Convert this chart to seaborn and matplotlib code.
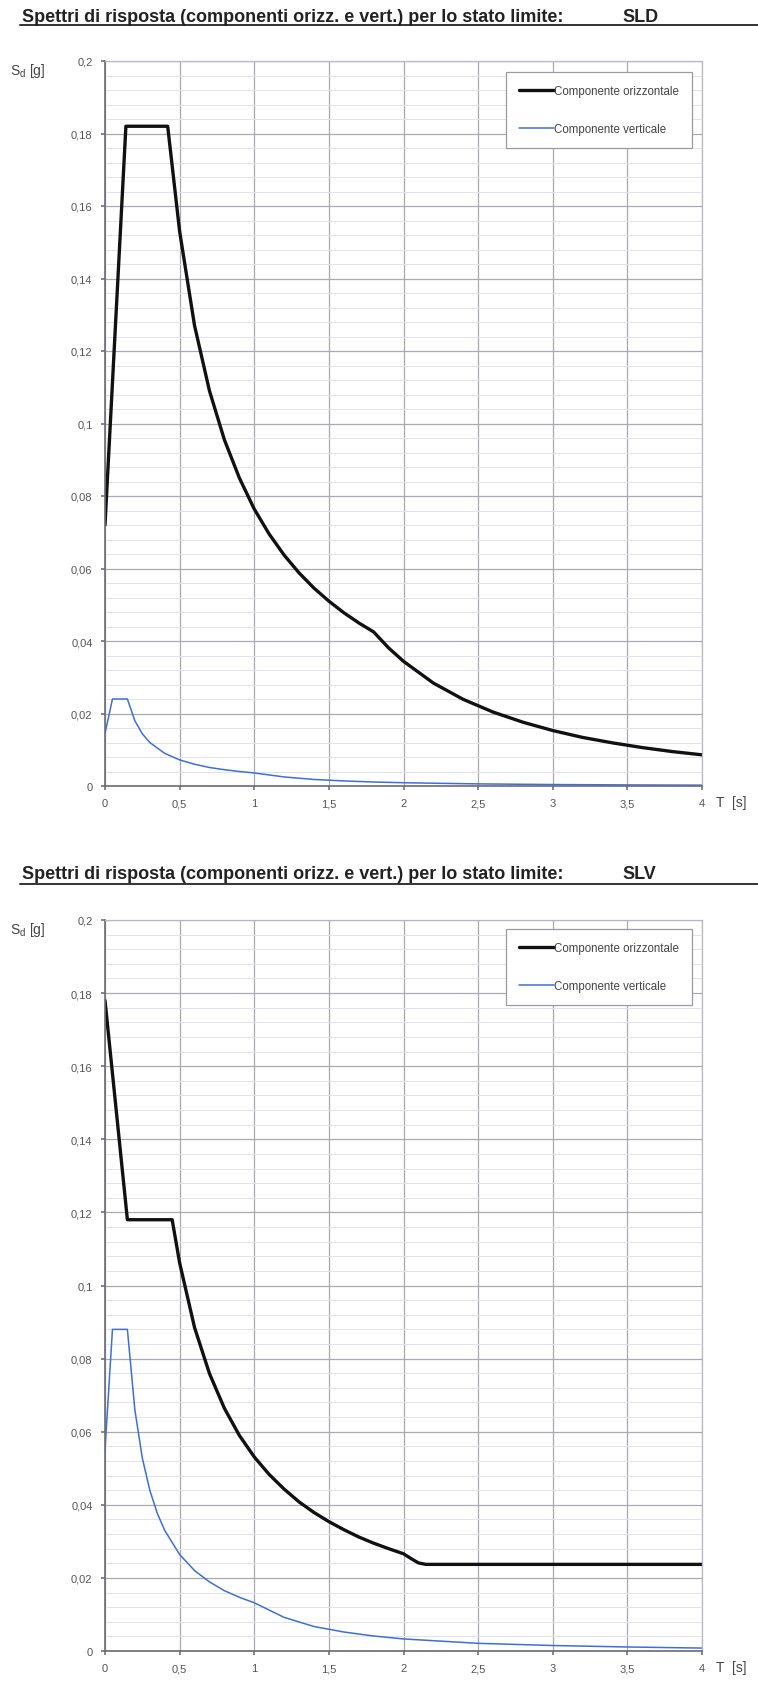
import matplotlib
matplotlib.use("Agg")
import matplotlib.pyplot as plt
from matplotlib.lines import Line2D
from matplotlib.ticker import MultipleLocator, FuncFormatter
import seaborn as sns
import pandas as pd

# ---------------- data ----------------
title_text = "Spettri di risposta (componenti orizz. e vert.) per lo stato limite:"
states = ["SLD", "SLV"]
series_names = ["Componente orizzontale", "Componente verticale"]

sld_h_T = [0, 0.14, 0.42, 0.5, 0.6, 0.7, 0.8, 0.9, 1.0, 1.1, 1.2, 1.3, 1.4, 1.5,
           1.6, 1.7, 1.8, 1.9, 2.0, 2.2, 2.4, 2.6, 2.8, 3.0, 3.2, 3.4, 3.6, 3.8, 4.0]
sld_h_S = [0.072, 0.182, 0.182, 0.153, 0.127, 0.109, 0.0955, 0.085, 0.0764, 0.0695,
           0.0637, 0.0588, 0.0546, 0.051, 0.0478, 0.045, 0.0425, 0.0381, 0.0344,
           0.0284, 0.0239, 0.0204, 0.0176, 0.0153, 0.0134, 0.0119, 0.0106, 0.0095, 0.0086]

sld_v_T = [0, 0.05, 0.15, 0.2, 0.25, 0.3, 0.4, 0.5, 0.6, 0.7, 0.8, 0.9, 1.0, 1.2,
           1.4, 1.6, 1.8, 2.0, 2.5, 3.0, 3.5, 4.0]
sld_v_S = [0.0145, 0.024, 0.024, 0.018, 0.0144, 0.012, 0.009, 0.0072, 0.006, 0.0051,
           0.0045, 0.004, 0.0036, 0.0025, 0.0018, 0.0014, 0.0011, 0.0009, 0.00058,
           0.0004, 0.0003, 0.00023]

slv_h_T = [0, 0.15, 0.45, 0.5, 0.6, 0.7, 0.8, 0.9, 1.0, 1.1, 1.2, 1.3, 1.4, 1.5,
           1.6, 1.7, 1.8, 1.9, 2.0, 2.05, 2.1, 2.15, 2.5, 3.0, 3.5, 4.0]
slv_h_S = [0.178, 0.118, 0.118, 0.1062, 0.0885, 0.0759, 0.0664, 0.059, 0.0531, 0.0483,
           0.0443, 0.0408, 0.0379, 0.0354, 0.0332, 0.0312, 0.0295, 0.028, 0.0266,
           0.0253, 0.0241, 0.0237, 0.0237, 0.0237, 0.0237, 0.0237]

slv_v_T = [0, 0.05, 0.15, 0.2, 0.25, 0.3, 0.35, 0.4, 0.5, 0.6, 0.7, 0.8, 0.9, 1.0,
           1.2, 1.4, 1.6, 1.8, 2.0, 2.5, 3.0, 3.5, 4.0]
slv_v_S = [0.055, 0.088, 0.088, 0.066, 0.0528, 0.044, 0.0377, 0.033, 0.0264, 0.022,
           0.0189, 0.0165, 0.0147, 0.0132, 0.0092, 0.0067, 0.0052, 0.0041, 0.0033,
           0.0021, 0.0015, 0.0011, 0.0008]

# ---------------- style ----------------
sns.set_theme(style="white")
plt.rcParams["font.family"] = ["Liberation Sans", "DejaVu Sans"]

W, H = 758, 1699
fig = plt.figure(figsize=(W / 100, H / 100), dpi=100)

def fx(px):
    return px / W

def fy(py):
    return 1 - py / H

comma = FuncFormatter(lambda v, p: ("%g" % round(v, 4)).replace(".", ","))

panels = [
    dict(state="SLD", top=62, bottom=787, title_y=17, line_y=26,
         legend_top=73, data=[(sld_h_T, sld_h_S), (sld_v_T, sld_v_S)]),
    dict(state="SLV", top=921, bottom=1652, title_y=875, line_y=885,
         legend_top=930, data=[(slv_h_T, slv_h_S), (slv_v_T, slv_v_S)]),
]

left_px, right_px = 105, 702
colors = ["#111111", "#3d6fd6"]
widths = [2.4, 1.1]

for p in panels:
    ax = fig.add_axes([fx(left_px), fy(p["bottom"]), fx(right_px - left_px),
                       (p["bottom"] - p["top"]) / H])
    for (T, S), name, c, lw in zip(p["data"], series_names, colors, widths):
        df = pd.DataFrame({"T": T, "S": S})
        sns.lineplot(data=df, x="T", y="S", ax=ax, color=c, linewidth=lw,
                     label=name, estimator=None, sort=False)
    ax.set_xlim(0, 4)
    ax.set_ylim(0, 0.2)
    ax.xaxis.set_major_locator(MultipleLocator(0.5))
    ax.yaxis.set_major_locator(MultipleLocator(0.02))
    ax.yaxis.set_minor_locator(MultipleLocator(0.004))
    ax.xaxis.set_major_formatter(comma)
    ax.yaxis.set_major_formatter(comma)
    ax.grid(which="major", color="#a9a9b4", linewidth=0.9)
    ax.grid(which="minor", axis="y", color="#e2e2ea", linewidth=0.7)
    ax.set_axisbelow(True)
    ax.tick_params(axis="both", which="major", labelsize=8, labelcolor="#555555",
                   length=3, color="#777777", pad=6, direction="out",
                   left=True, bottom=True)
    ax.tick_params(which="minor", length=0)
    ax.set_xlabel("")
    ax.set_ylabel("")
    for side in ["left", "bottom"]:
        ax.spines[side].set_color("#6a6a78")
        ax.spines[side].set_linewidth(1.2)
    for side in ["top", "right"]:
        ax.spines[side].set_color("#b8b8c4")
        ax.spines[side].set_linewidth(0.9)

    leg_top_ax = 1 - (p["legend_top"] - p["top"]) / (p["bottom"] - p["top"])
    leg = ax.legend(loc="upper right",
                    bbox_to_anchor=((692 - left_px) / (right_px - left_px), leg_top_ax),
                    fontsize=8.3, frameon=True, fancybox=False, edgecolor="#9a9aa6",
                    framealpha=1, handlelength=3.1, handletextpad=0.0,
                    labelspacing=2.3, borderpad=1.1, borderaxespad=0)
    leg.get_frame().set_linewidth(0.9)
    for t in leg.get_texts():
        t.set_color("#444444")

    # title and underline
    fig.text(fx(22), fy(p["title_y"]), title_text, fontsize=13, fontweight="bold",
             color="#222222", va="center", ha="left")
    fig.text(fx(622), fy(p["title_y"]), p["state"], fontsize=13, fontweight="bold",
             color="#222222", va="center", ha="left")
    fig.add_artist(Line2D([fx(20), fx(758)], [fy(p["line_y"]), fy(p["line_y"])],
                          color="#333333", linewidth=1.4))

    # axis labels
    fig.text(fx(10), fy(p["top"] + 9), r"S$_\mathregular{d}$ [g]", fontsize=10,
             color="#444444", va="center", ha="left")
    fig.text(fx(716), fy(p["bottom"] + 16), "T  [s]", fontsize=10,
             color="#444444", va="center", ha="left")

fig.savefig("out.png", dpi=100, facecolor="white")
